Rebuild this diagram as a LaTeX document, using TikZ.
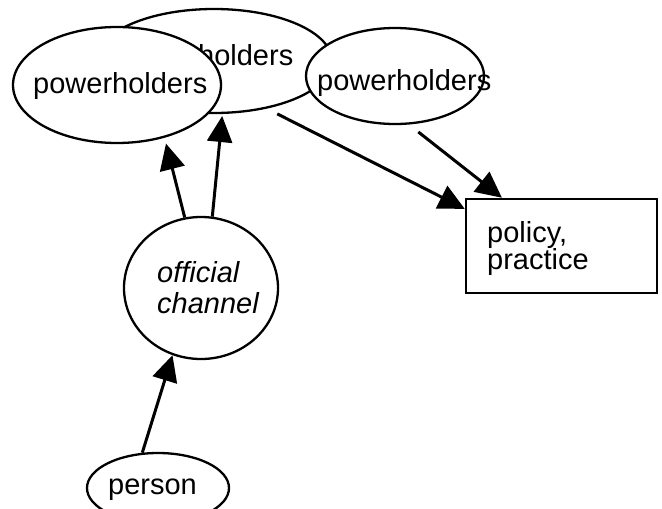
\documentclass[tikz,border=0pt]{standalone}
\usepackage{fontspec}
\setmainfont{Liberation Sans}
\usetikzlibrary{arrows.meta,shapes.geometric}
\tikzset{
  oval/.style={draw=black, fill=white, ellipse, line width=2.3pt, inner sep=0pt},
  txt/.style={inner sep=0pt, font=\fontsize{29}{27.5}\selectfont, align=left},
  arr/.style={line width=3pt, -{Triangle[length=26pt,width=25pt]}},
  boxst/.style={draw=black, line width=2.5pt, inner sep=0pt}
}
\begin{document}
\begin{tikzpicture}[x=1pt,y=-1pt]
\useasboundingbox (0,0) rectangle (662,509);
\clip (0,0) rectangle (662,509);
% back powerholders
\node[oval, minimum width=236pt, minimum height=104pt] (mid) at (214,61) {};
\node[txt, anchor=base west] (midt) at (119,65) {powerholders};
% left powerholders
\node[oval, minimum width=208pt, minimum height=116pt] (lft) at (117,85) {};
\node[txt, anchor=base west] (lftt) at (33,93) {powerholders};
% right powerholders
\node[oval, minimum width=178pt, minimum height=96pt] (rgt) at (395,76) {};
\node[txt, anchor=base west] (rgtt) at (317,90) {powerholders};
% policy box
\node[boxst, minimum width=191pt, minimum height=94pt] (box) at (561.5,246) {};
\node[txt, anchor=base west] (boxt) at (487,269.5) {policy,\\practice};
% official channel
\node[oval, minimum width=154pt, minimum height=142pt] (oc) at (201,288) {};
\node[txt, anchor=base west, font=\fontsize{29}{31}\selectfont\itshape] (oct) at (157,313) {official\\channel};
% person
\node[oval, minimum width=142pt, minimum height=70pt] (per) at (158,488) {};
\node[txt, anchor=base west] (pert) at (108,494) {person};
% connectors
\draw[arr] (per.114) -- (oc.247);
\draw[arr, shorten >=6pt] (oc.103.6) -- (lft.-48.5);
\draw[arr, shorten >=2pt] (oc.81) -- (mid.-81.2);
\draw[arr, shorten <=11.6pt] (mid.-42.2) -- (box.159.3);
\draw[arr, shorten <=12pt] (rgt.-74) -- (box.141.2);
\end{tikzpicture}
\end{document}
